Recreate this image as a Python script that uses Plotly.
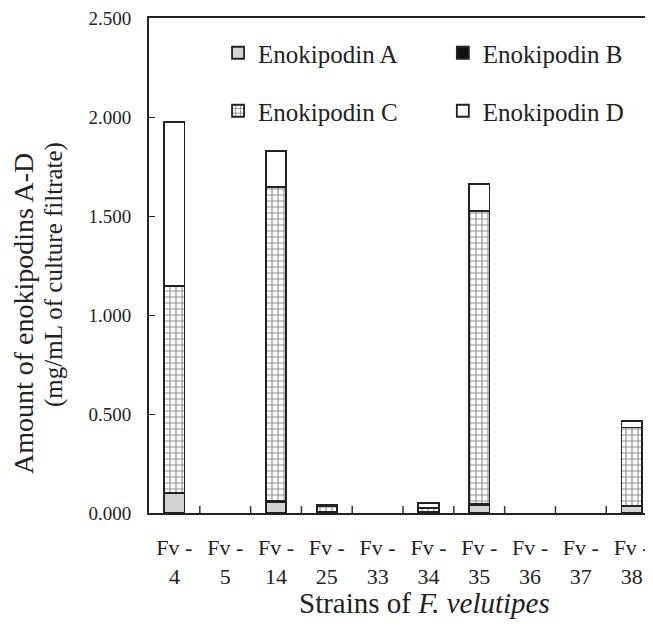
import plotly.graph_objects as go

strains = ["4", "5", "14", "25", "33", "34", "35", "36", "37", "38"]
tick_labels = ["Fv -<br>" + s for s in strains]
enok_a = [0.100, 0, 0.055, 0.004, 0, 0.004, 0.040, 0, 0, 0.035]
enok_b = [0.004, 0, 0.004, 0.000, 0, 0.000, 0.004, 0, 0, 0.003]
enok_c = [1.042, 0, 1.586, 0.030, 0, 0.022, 1.481, 0, 0, 0.394]
enok_d = [0.827, 0, 0.185, 0.008, 0, 0.024, 0.135, 0, 0, 0.033]
y_ticks = [0, 0.5, 1.0, 1.5, 2.0, 2.5]

FONT = '"Liberation Serif", "Times New Roman", Times, serif'
x = list(range(len(strains)))


def nz(vals):
    return [v if v else None for v in vals]


fig = go.Figure()
common = dict(width=0.4, marker_line=dict(color="#222222", width=1.8), showlegend=True)
fig.add_trace(go.Bar(x=x, y=nz(enok_a), name="Enokipodin A", marker_color="#d4d4d4",
                     legend="legend", **common))
fig.add_trace(go.Bar(x=x, y=nz(enok_b), name="Enokipodin B", marker_color="#111111",
                     legend="legend2", **common))
fig.add_trace(go.Bar(x=x, y=nz(enok_c), name="Enokipodin C", marker_color="white",
                     marker_pattern=dict(shape="+", fgcolor="#222222", bgcolor="white",
                                         size=6, solidity=0.35, fillmode="overlay"),
                     legend="legend3", **common))
fig.add_trace(go.Bar(x=x, y=nz(enok_d), name="Enokipodin D", marker_color="white",
                     legend="legend4", **common))

# plot area (page pixels): left 149, top 18, bottom 513
PT, PB = 18, 513
PH = PB - PT
legend_common = dict(orientation="h", xanchor="left", yanchor="middle", visible=True,
                     font=dict(size=25, family=FONT), bgcolor="rgba(0,0,0,0)")
col1, col2 = 0.137, 0.583
row1, row2 = (PB - 53) / PH, (PB - 111) / PH
fig.update_layout(
    barmode="stack",
    showlegend=True,
    width=645, height=629,
    margin=dict(l=141, r=0, t=PT - 8, b=124),
    paper_bgcolor="white", plot_bgcolor="white",
    font=dict(family=FONT, color="#222222", size=20),
    legend=dict(x=col1, y=row1, **legend_common),
    legend2=dict(x=col2, y=row1, **legend_common),
    legend3=dict(x=col1, y=row2, **legend_common),
    legend4=dict(x=col2, y=row2, **legend_common),
)
fig.update_xaxes(range=[-0.5, 9.42], tickmode="array", tickvals=x, ticktext=tick_labels,
                 showline=True, linecolor="#222222", linewidth=2, mirror=True,
                 ticks="", showgrid=False, zeroline=False, automargin=False,
                 tickfont=dict(size=22, family=FONT), ticklabelstandoff=14,
                 ticklabeloverflow="allow")
fig.update_yaxes(range=[0, 2.5], tickvals=y_ticks, tickformat=".3f",
                 showline=True, linecolor="#222222", linewidth=2,
                 ticks="inside", ticklen=6, tickcolor="#222222", tickwidth=1,
                 showgrid=False, zeroline=False, automargin=False,
                 tickfont=dict(size=19, family=FONT), ticklabelstandoff=12,
                 ticklabeloverflow="allow")

# x-axis boundary ticks (between categories)
for b in [i + 0.5 for i in range(len(strains) - 1)]:
    fig.add_shape(type="line", xref="x", yref="paper", x0=b, x1=b, y0=0, y1=0.014,
                  line=dict(color="#333333", width=1.5))

fig.add_annotation(text="Strains of <i>F. velutipes</i>", xref="paper", yref="paper",
                   x=(424 - 149) / 504, y=-(603 - PB) / PH, showarrow=False,
                   font=dict(size=29, family=FONT), xanchor="center", yanchor="middle")
fig.add_annotation(text="Amount of enokipodins A-D", xref="paper", yref="paper",
                   x=-(149 - 23) / 504, y=(PB - 314) / PH, showarrow=False, textangle=-90,
                   font=dict(size=28, family=FONT), xanchor="center", yanchor="middle")
fig.add_annotation(text="(mg/mL of culture filtrate)", xref="paper", yref="paper",
                   x=-(149 - 54) / 504, y=(PB - 275) / PH, showarrow=False, textangle=-90,
                   font=dict(size=25, family=FONT), xanchor="center", yanchor="middle")

fig.write_html("out.html")
